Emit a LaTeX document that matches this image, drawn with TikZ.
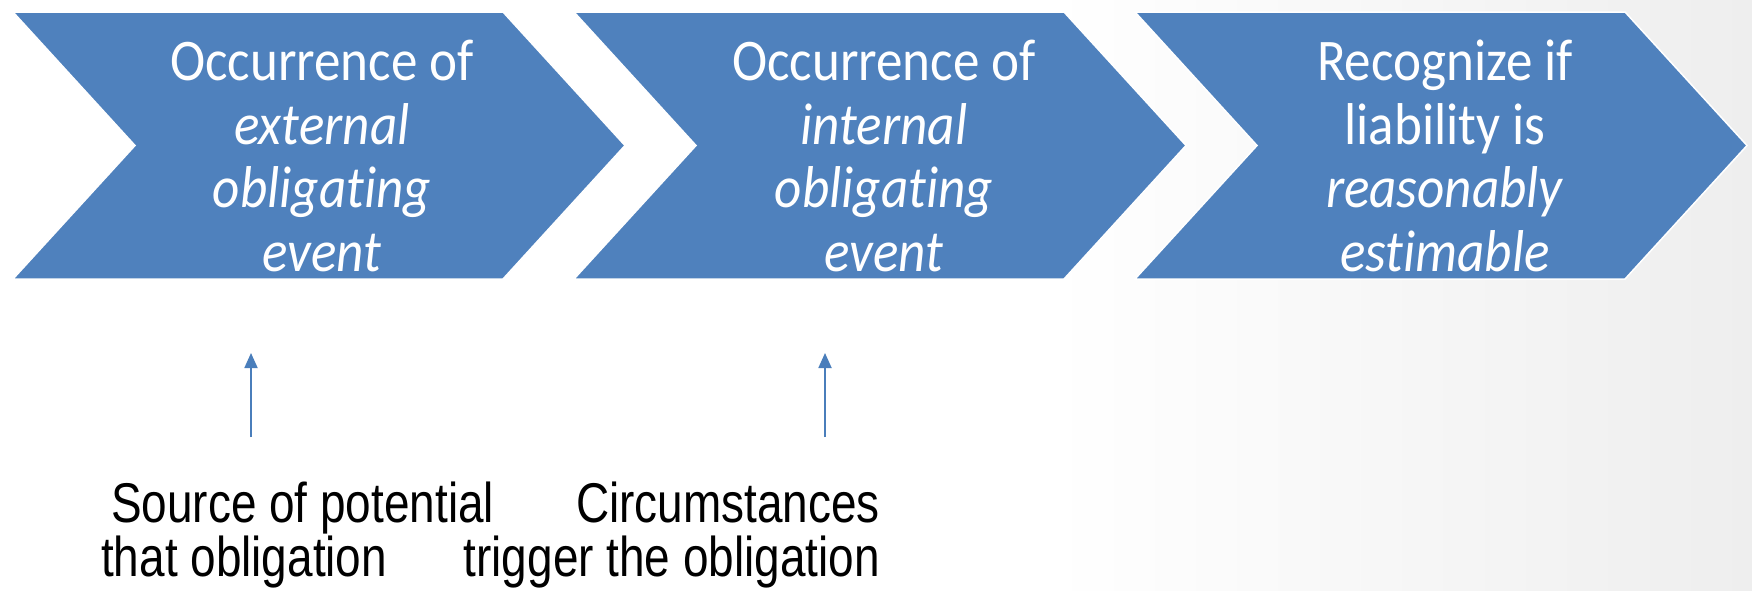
\documentclass[tikz,border=0pt]{standalone}
\usepackage{fontspec}
\usetikzlibrary{arrows.meta}
\newfontfamily\chevfont[FakeStretch=0.9,Ligatures={NoCommon}]{Carlito}
\newfontfamily\labfont[FakeStretch=0.82]{Liberation Sans}
\definecolor{chevblue}{HTML}{4F81BD}
\definecolor{arrowblue}{HTML}{4A7EBB}
\pgfdeclarehorizontalshading{bgshade}{100bp}{color(0bp)=(black!4); color(7bp)=(white); color(55bp)=(white); color(100bp)=(black!15)}
\begin{document}
\begin{tikzpicture}[x=1pt,y=-1pt,
  chev/.style={fill=chevblue, draw=white, line width=1.5pt, line join=miter},
  chevtext/.style={text=white, font=\chevfont\fontsize{59}{63.5}\selectfont, align=center, inner sep=0pt},
  labtext/.style={font=\labfont\fontsize{56}{54}\selectfont, text=black, inner sep=0pt},
  uparrow/.style={draw=arrowblue, line width=1.8pt, -{Triangle[width=13pt,length=15pt]}}]
\useasboundingbox (0,0) rectangle (1752,590);
\shade[shading=bgshade] (0,0) rectangle (1752,590);
% chevrons
\draw[chev] (13,12) -- (503,12) -- (625,145.5) -- (503,279) -- (13,279) -- (135,145.5) -- cycle;
\draw[chev] (574,12) -- (1064,12) -- (1186,145.5) -- (1064,279) -- (574,279) -- (696,145.5) -- cycle;
\draw[chev] (1135,12) -- (1625,12) -- (1747,145.5) -- (1625,279) -- (1135,279) -- (1257,145.5) -- cycle;
% chevron texts (base anchor = baseline of last line)
\node[chevtext, anchor=base] (t1) at (322,271) {Occurrence of\\\textit{external}\\\textit{obligating}\\\textit{event}};
\node[chevtext, anchor=base] (t2) at (884,271) {Occurrence of\\\textit{internal}\\\textit{obligating}\\\textit{event}};
\node[chevtext, anchor=base] (t3) at (1445,271) {Recognize if\\liability is\\\textit{reasonably}\\\textit{estimable}};
% labels
\node[labtext, anchor=base west] (src1) at (111,522) {Source of potential};
\node[labtext, anchor=base west] (src2) at (101,576) {that obligation};
\node[labtext, anchor=base east] (cir1) at (880,522) {Circumstances};
\node[labtext, anchor=base east] (cir2) at (880,576) {trigger the obligation};
% arrows
\coordinate (a1from) at (251,437);
\coordinate (a1to) at (251,353);
\coordinate (a2from) at (825,437);
\coordinate (a2to) at (825,353);
\draw[uparrow] (a1from) -- (a1to);
\draw[uparrow] (a2from) -- (a2to);
\end{tikzpicture}
\end{document}
